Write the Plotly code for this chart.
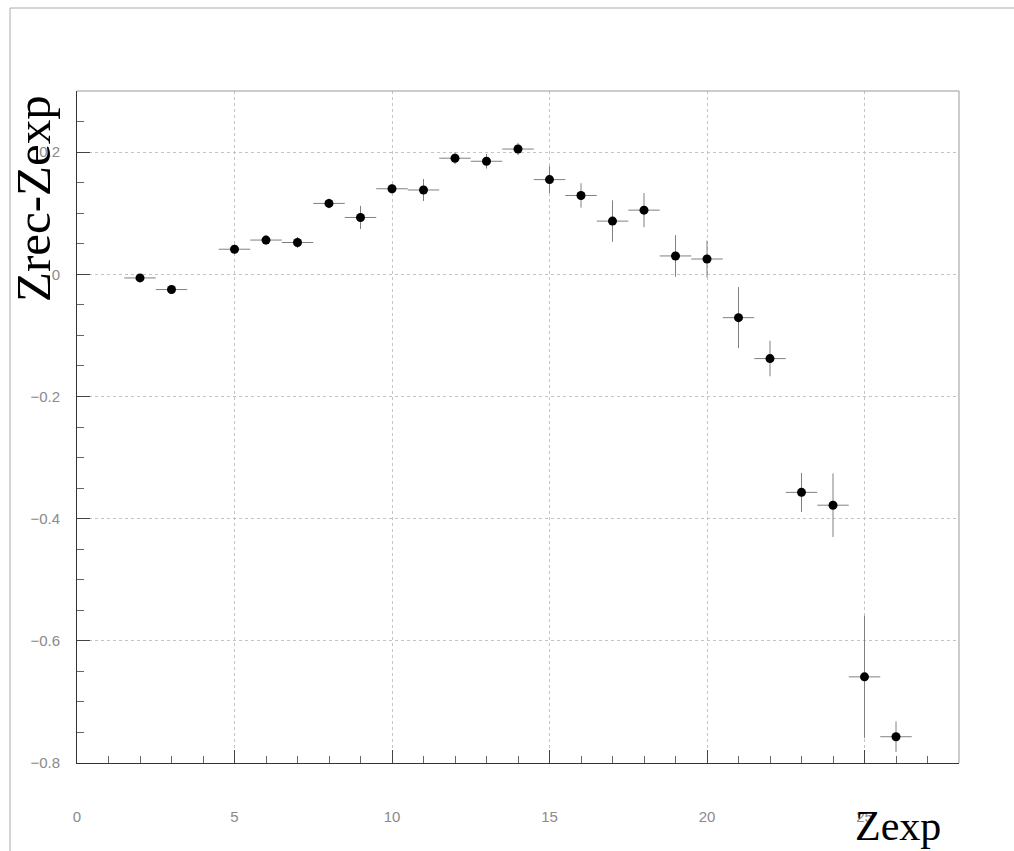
import plotly.graph_objects as go

# Residuals of reconstructed vs expected Z
z_exp = [2, 3, 5, 6, 7, 8, 9, 10, 11, 12, 13, 14, 15, 16, 17, 18, 19, 20, 21, 22, 23, 24, 25, 26]
dz = [-0.006, -0.025, 0.041, 0.056, 0.052, 0.116, 0.093, 0.140, 0.138, 0.190, 0.185, 0.205,
      0.155, 0.129, 0.087, 0.105, 0.030, 0.025, -0.071, -0.138, -0.357, -0.378, -0.659, -0.757]
dz_err = [0.006, 0.006, 0.008, 0.008, 0.009, 0.008, 0.019, 0.008, 0.018, 0.010, 0.012, 0.010,
          0.022, 0.020, 0.034, 0.028, 0.034, 0.030, 0.050, 0.029, 0.032, 0.052, 0.100, 0.025]
x_half_width = 0.5

fig = go.Figure()
fig.add_trace(go.Scatter(
    x=z_exp, y=dz, mode="markers",
    marker=dict(color="black", size=9),
    error_x=dict(type="constant", value=x_half_width, color="#808080", thickness=1, width=0),
    error_y=dict(type="data", array=dz_err, color="#808080", thickness=1, width=0),
    showlegend=False,
))

tick_font = dict(family="Liberation Sans, Arial, sans-serif", size=15, color="#8a8a8a")
grid = dict(showgrid=True, gridcolor="#c4c4c4", griddash="dot", gridwidth=1, zeroline=False)

fig.update_xaxes(
    range=[0, 28], tick0=0, dtick=5, ticks="inside", ticklen=13, tickcolor="#444",
    minor=dict(dtick=1, ticks="inside", ticklen=7, tickcolor="#666", showgrid=False),
    showline=True, linecolor="#333", linewidth=1, mirror=False,
    tickfont=tick_font, ticklabelstandoff=40, **grid,
)
fig.update_yaxes(
    range=[-0.8, 0.3], tick0=-0.8, dtick=0.2, ticks="inside", ticklen=13, tickcolor="#444",
    minor=dict(dtick=0.05, ticks="inside", ticklen=7, tickcolor="#666", showgrid=False),
    showline=True, linecolor="#333", linewidth=1, mirror=False,
    tickfont=tick_font, ticklabelstandoff=13, **grid,
)

# thin frame around the plot area (top and right sides)
fig.add_shape(type="line", xref="paper", yref="paper", x0=0, x1=1, y0=1, y1=1,
              line=dict(color="#999", width=1))
fig.add_shape(type="line", xref="paper", yref="paper", x0=1, x1=1, y0=0, y1=1,
              line=dict(color="#999", width=1))

# outer canvas border (left and top edges)
fig.add_shape(type="line", xref="paper", yref="paper",
              x0=-67 / 882, x1=-67 / 882, y0=-88 / 672, y1=(672 + 83) / 672,
              line=dict(color="#aaa", width=1))
fig.add_shape(type="line", xref="paper", yref="paper",
              x0=-67 / 882, x1=(882 + 60) / 882, y0=(672 + 83) / 672, y1=(672 + 83) / 672,
              line=dict(color="#aaa", width=1))

serif = "Liberation Serif, Times New Roman, serif"
fig.add_annotation(text="Zrec-Zexp", xref="paper", yref="paper",
                   x=-44 / 882, y=(763 - 199) / 672, textangle=-90,
                   showarrow=False, font=dict(family=serif, size=49, color="black"),
                   xanchor="center", yanchor="middle")
fig.add_annotation(text="Zexp", xref="paper", yref="paper",
                   x=(898 - 77) / 882, y=-(826 - 763) / 672,
                   showarrow=False, font=dict(family=serif, size=42, color="black"),
                   xanchor="center", yanchor="middle")

fig.update_layout(
    width=1014, height=851,
    margin=dict(l=77, r=55, t=91, b=88),
    paper_bgcolor="white", plot_bgcolor="white",
)

fig.write_html("out.html")
